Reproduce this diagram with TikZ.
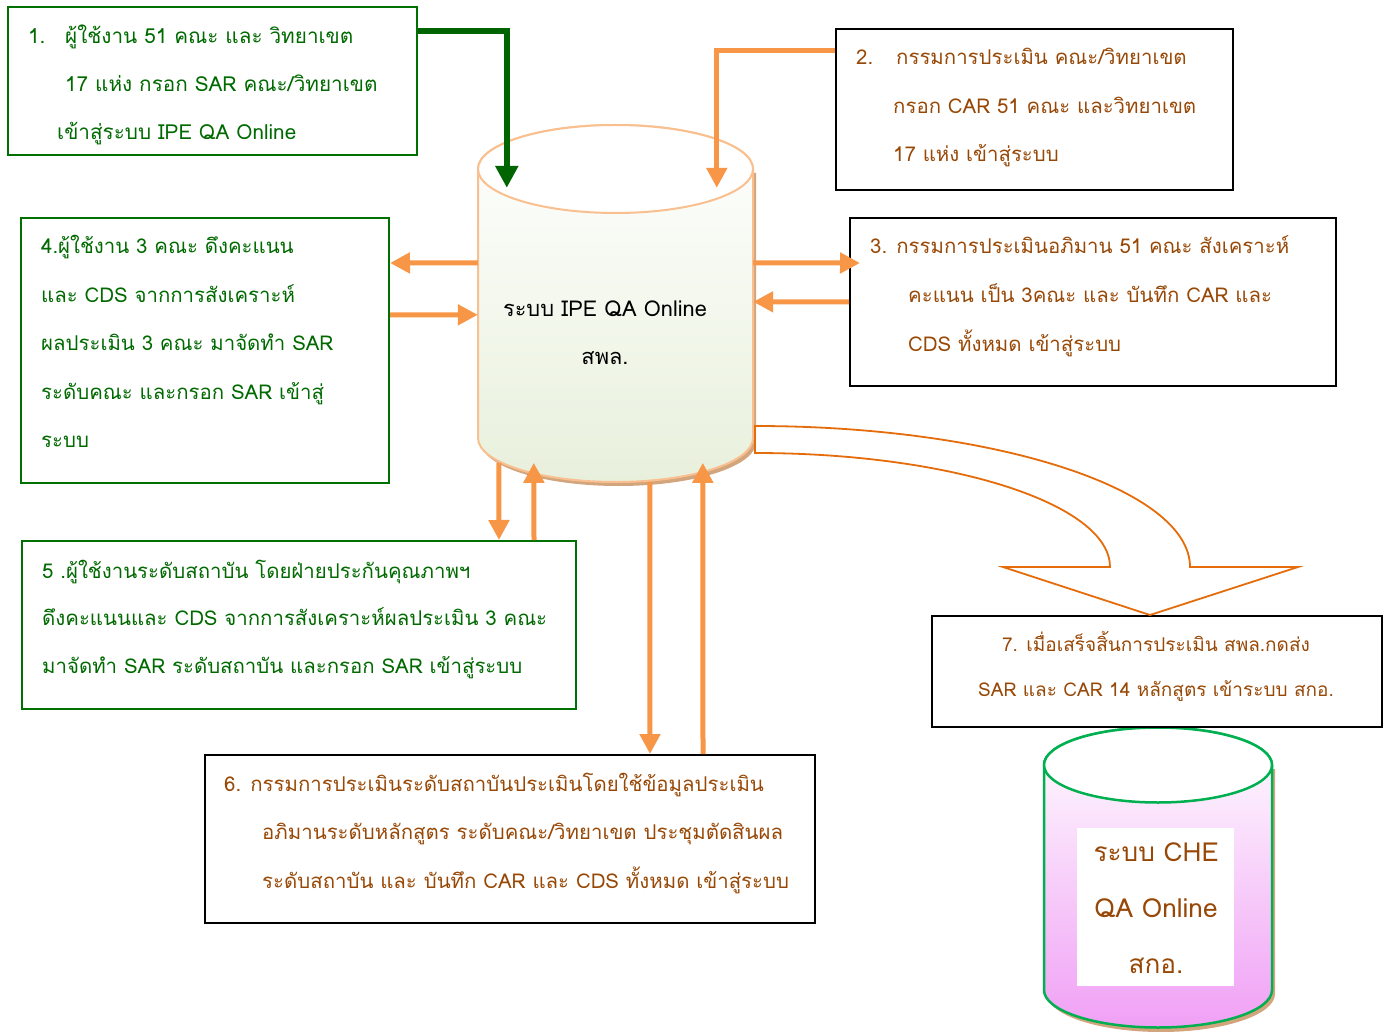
\documentclass[tikz,border=0pt]{standalone}
\usepackage{fontspec}
\setmainfont{Loma}[Script=Thai]
\usetikzlibrary{arrows.meta,calc}
\definecolor{gtxt}{RGB}{0,105,0}
\definecolor{gline}{RGB}{0,112,0}
\definecolor{garr}{RGB}{0,100,0}
\definecolor{btxt}{RGB}{152,72,6}
\definecolor{oarr}{RGB}{247,150,70}
\definecolor{cylb}{RGB}{250,191,143}
\definecolor{cylfill}{RGB}{232,240,220}
\definecolor{bigarr}{RGB}{228,108,10}
\definecolor{chegreen}{RGB}{0,176,80}
\definecolor{chefill}{RGB}{240,160,245}
\definecolor{shadowc}{RGB}{210,165,125}
\begin{document}
\begin{tikzpicture}[x=1pt,y=-1pt,
  gbox/.style={draw=gline,line width=2pt,inner sep=0pt,anchor=north west},
  kbox/.style={draw=black,line width=2pt,inner sep=0pt,anchor=north west},
  txt/.style={anchor=base west,inner sep=0pt,font=\fontsize{20.4}{24}\selectfont},
  gt/.style={txt,text=gtxt},
  bt/.style={txt,text=btxt},
  oarrow/.style={draw=oarr,line width=5pt,-{Triangle[length=20pt,width=20pt]}},
  garrow/.style={draw=garr,line width=6pt,-{Triangle[length=22pt,width=22pt]}}
]
\useasboundingbox (0,0) rectangle (1391,1032);

% ---------- IPE cylinder ----------
\fill[shadowc] (481,173) -- (481,442) .. controls (481,466.3) and (542.6,486) .. (618.5,486) .. controls (694.4,486) and (756,466.3) .. (756,442) -- (756,173) -- cycle;
\path[draw=cylb,line width=2pt,top color=white,bottom color=cylfill]
  (478,169) -- (478,438) .. controls (478,462.3) and (539.6,482) .. (615.5,482)
  .. controls (691.4,482) and (753,462.3) .. (753,438) -- (753,169)
  .. controls (753,144.7) and (691.4,125) .. (615.5,125)
  .. controls (539.6,125) and (478,144.7) .. (478,169) -- cycle;
\draw[cylb,line width=2pt,fill=white] (615.5,169) ellipse [x radius=137.5,y radius=44];
\node[minimum width=275pt,minimum height=357pt,inner sep=0pt] (ipe) at (615.5,303.5) {};
\node[txt,anchor=base,text=black,font=\fontsize{21.8}{26}\selectfont] (ipet1) at (605,316) {ระบบ IPE QA Online};
\node[txt,anchor=base,text=black,font=\fontsize{21.8}{26}\selectfont] (ipet2) at (605,364) {สพล.};

% ---------- CHE cylinder ----------
\fill[shadowc] (1047,769) -- (1047,994) .. controls (1047,1014.7) and (1098,1032) .. (1161,1032) .. controls (1224,1032) and (1275,1014.7) .. (1275,994) -- (1275,769) -- cycle;
\path[draw=chegreen,line width=2.5pt,top color=white,bottom color=chefill]
  (1044,765) -- (1044,990) .. controls (1044,1010.7) and (1095,1027.5) .. (1158,1027.5)
  .. controls (1221,1027.5) and (1272,1010.7) .. (1272,990) -- (1272,765)
  .. controls (1272,744.3) and (1221,727.5) .. (1158,727.5)
  .. controls (1095,727.5) and (1044,744.3) .. (1044,765) -- cycle;
\draw[chegreen,line width=2.5pt,fill=white] (1158,765) ellipse [x radius=114,y radius=37.5];
\node[fill=white,inner sep=0pt,minimum width=157pt,minimum height=158pt] (che) at (1155.5,907) {};
\node[txt,anchor=base,text=btxt,font=\fontsize{26.2}{30}\selectfont] (chet1) at (1156,861) {ระบบ CHE};
\node[txt,anchor=base,text=btxt,font=\fontsize{26.2}{30}\selectfont] (chet2) at (1156,917) {QA Online};
\node[txt,anchor=base,text=btxt,font=\fontsize{26.2}{30}\selectfont] (chet3) at (1156,973) {สกอ.};

% ---------- boxes ----------
\node[gbox,minimum width=409pt,minimum height=148pt] (b1) at (7,6) {};
\node[kbox,minimum width=397pt,minimum height=161pt] (b2) at (835,28) {};
\node[kbox,minimum width=486pt,minimum height=168pt] (b3) at (849,217) {};
\node[gbox,minimum width=368pt,minimum height=265pt] (b4) at (20,217) {};
\node[gbox,minimum width=554pt,minimum height=168pt] (b5) at (21,540) {};
\node[kbox,minimum width=610pt,minimum height=168pt] (b6) at (204,754) {};
\node[kbox,minimum width=450pt,minimum height=111pt] (b7) at (931,615) {};

% box texts
\node[gt,font=\fontsize{20.7}{24}\selectfont] (t1a) at (28,44) {1.};
\node[gt,font=\fontsize{20.7}{24}\selectfont] (t1b) at (65,44) {ผู้ใช้งาน 51 คณะ และ วิทยาเขต};
\node[gt,font=\fontsize{20.7}{24}\selectfont] (t1c) at (65,92) {17 แห่ง กรอก SAR คณะ/วิทยาเขต};
\node[gt,font=\fontsize{20.7}{24}\selectfont] (t1d) at (57,140) {เข้าสู่ระบบ IPE QA Online};

\node[bt] (t2a) at (856,65) {2.};
\node[bt] (t2b) at (896,65) {กรรมการประเมิน คณะ/วิทยาเขต};
\node[bt] (t2c) at (893,114) {กรอก CAR 51 คณะ และวิทยาเขต};
\node[bt] (t2d) at (893,162) {17 แห่ง เข้าสู่ระบบ};

\node[bt] (t3a) at (870,254) {3. กรรมการประเมินอภิมาน 51 คณะ สังเคราะห์};
\node[bt] (t3b) at (908,302) {คะแนน เป็น 3คณะ และ บันทึก CAR และ};
\node[bt] (t3c) at (908,351) {CDS ทั้งหมด เข้าสู่ระบบ};

\node[gt] (t4a) at (41,254) {4.ผู้ใช้งาน 3 คณะ ดึงคะแนน};
\node[gt] (t4b) at (41,302) {และ CDS จากการสังเคราะห์};
\node[gt] (t4c) at (41,350) {ผลประเมิน 3 คณะ มาจัดทำ SAR};
\node[gt] (t4d) at (41,399) {ระดับคณะ และกรอก SAR เข้าสู่};
\node[gt] (t4e) at (41,447) {ระบบ};

\node[gt] (t5a) at (42,578) {5 .ผู้ใช้งานระดับสถาบัน โดยฝ่ายประกันคุณภาพฯ};
\node[gt] (t5b) at (42,625) {ดึงคะแนนและ CDS จากการสังเคราะห์ผลประเมิน 3 คณะ};
\node[gt] (t5c) at (42,673) {มาจัดทำ SAR ระดับสถาบัน และกรอก SAR เข้าสู่ระบบ};

\node[bt] (t6a) at (224,791) {6. กรรมการประเมินระดับสถาบันประเมินโดยใช้ข้อมูลประเมิน};
\node[bt] (t6b) at (262,839) {อภิมานระดับหลักสูตร ระดับคณะ/วิทยาเขต ประชุมตัดสินผล};
\node[bt] (t6c) at (262,888) {ระดับสถาบัน และ บันทึก CAR และ CDS ทั้งหมด เข้าสู่ระบบ};

\node[bt,anchor=base,font=\fontsize{19}{23}\selectfont] (t7a) at (1156,651) {7. เมื่อเสร็จสิ้นการประเมิน สพล.กดส่ง};
\node[bt,anchor=base,font=\fontsize{19}{23}\selectfont] (t7b) at (1156,696) {SAR และ CAR 14 หลักสูตร เข้าระบบ สกอ.};

% ---------- connectors ----------
\draw[garrow] ($(b1.north east)+(0,25)$) -| ($(ipe.north west)+(29,63)$);
\draw[oarrow] ($(b2.north west)+(0,23)$) -| ($(ipe.north west)+(239,63)$);
\draw[oarrow] ($(ipe.north east)+(0,138)$) -- ($(b3.north west)+(11,46)$);
\draw[oarrow] ($(b3.north west)+(0,85)$) -- ($(ipe.north east)+(0,177)$);
\draw[oarrow] ($(ipe.north west)+(0,138)$) -- ($(b4.north east)+(0,46)$);
\draw[oarrow] ($(b4.north east)+(0,98)$) -- ($(ipe.north west)+(0,190)$);
\draw[oarrow] ($(ipe.north west)+(21,338)$) -- ($(b5.north west)+(478,0)$);
\draw[oarrow] ($(b5.north west)+(513,0)$) -- ($(ipe.north west)+(56,338)$);
\draw[oarrow] ($(ipe.south west)+(172,0)$) -- ($(b6.north west)+(446,0)$);
\draw[oarrow] ($(b6.north west)+(499,0)$) -- ($(ipe.north west)+(225,338)$);

% big curved block arrow
\draw[bigarr,line width=1.8pt,fill=white,line join=miter]
  (755,426) .. controls (995,426) and (1190,489) .. (1190,567)
  -- (1298,567) -- (1150,615) -- (1003,567) -- (1110,567)
  .. controls (1110,504) and (951,453) .. (755,453) -- cycle;
\end{tikzpicture}
\end{document}
